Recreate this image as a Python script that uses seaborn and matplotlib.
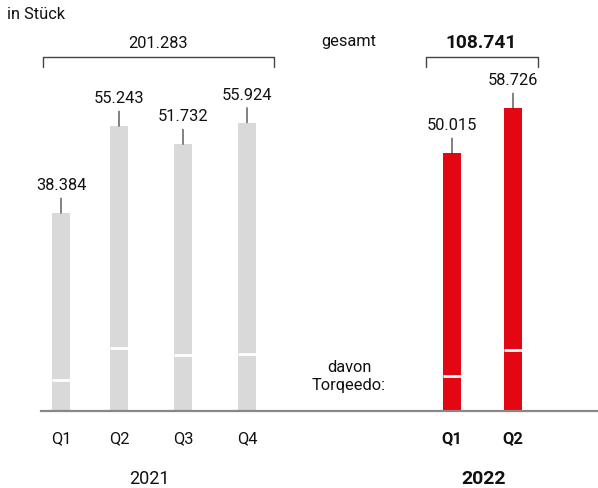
import matplotlib
matplotlib.use("Agg")
import matplotlib.pyplot as plt
import pandas as pd
import seaborn as sns
from matplotlib.lines import Line2D

# Quarterly engine unit sales (in Stück), with the Torqeedo share marked inside each bar
quarters = ["Q1", "Q2", "Q3", "Q4", "Q1", "Q2"]
years = ["2021", "2021", "2021", "2021", "2022", "2022"]
units = [38384, 55243, 51732, 55924, 50015, 58726]
torqeedo = [6000, 12200, 10900, 11000, 6700, 11800]


def de(n):
    return f"{n:,}".replace(",", ".")


W, H = 598, 489
sns.set_theme(style="white")
plt.rcParams["font.family"] = ["Roboto", "DejaVu Sans"]

# horizontal layout of the bars (pixel columns of the canvas)
slot_x = [61, 119, 183, 247, 452, 513]
BAR_W = 18
BASE = 412            # baseline row, px from top
PX_PER_UNIT = 5.155 / 1000
YMAX = 70000

df = pd.DataFrame({"x": slot_x, "quarter": quarters, "year": years,
                   "units": units, "torqeedo": torqeedo})

fig = plt.figure(figsize=(W / 100, H / 100), dpi=100)
ax = fig.add_axes([41 / W, (H - BASE) / H, 1 - 41 / W, YMAX * PX_PER_UNIT / H])

colors = {"2021": "#d9d9d9", "2022": "#e30613"}
min_gap = min(b - a for a, b in zip(slot_x, slot_x[1:]))
sns.barplot(data=df, x="x", y="units", hue="year", palette=colors,
            native_scale=True, width=BAR_W / min_gap, dodge=False,
            legend=False, saturation=1, errorbar=None,
            linewidth=0, edgecolor="none", ax=ax)

ax.set_xlim(41, W)
ax.set_ylim(0, YMAX)
ax.set_xlabel("")
ax.set_ylabel("")
ax.set_yticks([])
for side in ("left", "right", "top"):
    ax.spines[side].set_visible(False)
ax.spines["bottom"].set_color("#878787")
ax.spines["bottom"].set_linewidth(1.6)

# Torqeedo share: white divider inside each bar
patches = sorted(ax.patches, key=lambda p: p.get_x())
for p, t in zip(patches, df.sort_values("x")["torqeedo"]):
    ax.hlines(t, p.get_x(), p.get_x() + p.get_width(), color="white", lw=2.0, zorder=3)

# value labels with leader lines
TXT = "#111111"
FS = 11.8
for x, v in zip(df["x"], df["units"]):
    ax.annotate("", xy=(x, v), xytext=(0, 15), textcoords="offset pixels",
                arrowprops=dict(arrowstyle="-", color="#222222", lw=0.8,
                                shrinkA=0, shrinkB=0), annotation_clip=False)
    ax.annotate(de(v), xy=(x, v), xytext=(0, 24), textcoords="offset pixels",
                ha="center", va="baseline", fontsize=FS, color=TXT,
                annotation_clip=False)

# quarter ticks
ax.set_xticks(slot_x, quarters)
ax.tick_params(axis="x", length=0, pad=14, labelsize=FS, labelcolor=TXT)
for lbl, yr in zip(ax.get_xticklabels(), years):
    if yr == "2022":
        lbl.set_fontweight("bold")


def ftext(x, y, s, **kw):
    kw.setdefault("color", TXT)
    kw.setdefault("va", "baseline")
    fig.text(x / W, 1 - y / H, s, **kw)


def bracket(x0, x1, y, drop):
    xs = [x0 / W, x0 / W, x1 / W, x1 / W]
    ys = [1 - (y + drop) / H, 1 - y / H, 1 - y / H, 1 - (y + drop) / H]
    fig.add_artist(Line2D(xs, ys, color="#444444", lw=1.0))


ftext(7, 19, "in Stück", fontsize=FS)
ftext(349, 46, "gesamt", fontsize=FS, ha="center")
ftext(349, 372, "davon", fontsize=FS, ha="center")
ftext(349, 390.5, "Torqeedo:", fontsize=FS, ha="center")

total_2021 = sum(u for u, y in zip(units, years) if y == "2021")
total_2022 = sum(u for u, y in zip(units, years) if y == "2022")
bracket(43.5, 274, 57.5, 10.5)
bracket(425.5, 537.5, 57.5, 10)
ftext(158.5, 48.5, de(total_2021), fontsize=FS, ha="center")
ftext(481.5, 48.5, de(total_2022), fontsize=13.8, ha="center", fontweight="bold")

ftext(149, 484.5, "2021", fontsize=13, ha="center")
ftext(484, 484.5, "2022", fontsize=14, ha="center", fontweight="bold")

fig.savefig("out.png", dpi=100)
